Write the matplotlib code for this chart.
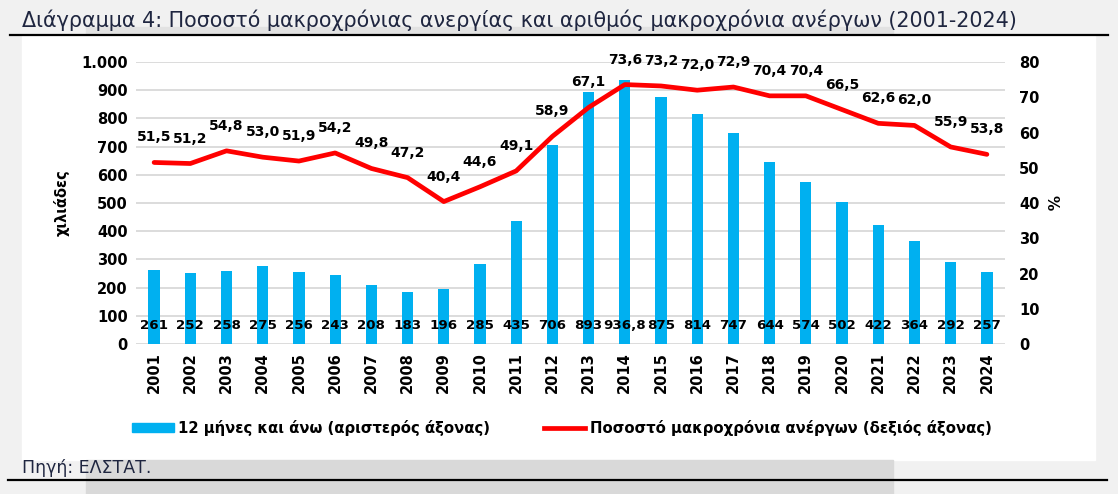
import numpy as np
import matplotlib
matplotlib.use("Agg")
import matplotlib.pyplot as plt
from matplotlib.patches import Rectangle
from matplotlib.lines import Line2D

# data
years = [str(y) for y in range(2001, 2025)]
longterm_k = [261, 252, 258, 275, 256, 243, 208, 183, 196, 285, 435, 706,
              893, 936.8, 875, 814, 747, 644, 574, 502, 422, 364, 292, 257]
longterm_pct = [51.5, 51.2, 54.8, 53.0, 51.9, 54.2, 49.8, 47.2, 40.4, 44.6, 49.1, 58.9,
                67.1, 73.6, 73.2, 72.0, 72.9, 70.4, 70.4, 66.5, 62.6, 62.0, 55.9, 53.8]
left_ticks = list(range(0, 1001, 100))
right_ticks = list(range(0, 81, 10))

title = "Διάγραμμα 4: Ποσοστό μακροχρόνιας ανεργίας και αριθμός μακροχρόνια ανέργων (2001-2024)"
bar_label = "12 μήνες και άνω (αριστερός άξονας)"
line_label = "Ποσοστό μακροχρόνια ανέργων (δεξιός άξονας)"
source = "Πηγή: ΕΛΣΤΑΤ."

BLUE = "#00b0f0"
RED = "#ff0000"
NAVY = "#1f2640"
W, H = 1118, 494


def fx(x):
    return x / W


def fy(y):
    return 1 - y / H


def gr(s):
    # greek decimal comma
    return s.replace(".", ",")


plt.rcParams["font.family"] = ["DejaVu Sans"]
fig = plt.figure(figsize=(W / 100, H / 100), dpi=100, facecolor="#f1f1f1")

# background panels (screenshot look)
fig.add_artist(Rectangle((fx(86), fy(35)), fx(893 - 86), 8 / H, transform=fig.transFigure,
                         color="#e2e2e2", zorder=0))
fig.add_artist(Rectangle((fx(22), fy(460)), fx(1095 - 22), (460 - 36) / H, transform=fig.transFigure,
                         color="white", zorder=0))
fig.add_artist(Rectangle((fx(86), 0), fx(893 - 86), (494 - 460) / H, transform=fig.transFigure,
                         color="#d9d9d9", zorder=0))
fig.add_artist(Line2D([fx(10), fx(1108)], [fy(35), fy(35)], transform=fig.transFigure,
                      color="black", lw=1.6))
fig.add_artist(Line2D([fx(8), fx(1107)], [fy(480), fy(480)], transform=fig.transFigure,
                      color="black", lw=1.6))

fig.text(fx(22), fy(20), title, fontsize=14.9, color=NAVY, ha="left", va="center")
fig.text(fx(22), fy(468), source, fontsize=12.5, color=NAVY, ha="left", va="center")

ax = fig.add_axes([fx(136), fy(344), fx(1005 - 136), (344 - 62) / H])
ax.set_facecolor("none")
x = np.arange(len(years))
ax.bar(x, longterm_k, width=0.31, color=BLUE, zorder=2)
ax.set_ylim(0, 1000)
ax.set_xlim(-0.5, len(years) - 0.5)
ax.set_yticks(left_ticks)
ax.set_yticklabels([f"{v:,}".replace(",", ".") for v in left_ticks])
ax.set_xticks(x)
ax.set_xticklabels(years, rotation=90)
ax.grid(axis="y", color="#d9d9d9", lw=1.3, zorder=0)
for s in ax.spines.values():
    s.set_visible(False)
ax.tick_params(length=0, labelsize=10.5, pad=6)
for lab in ax.get_xticklabels() + ax.get_yticklabels():
    lab.set_fontweight("bold")
ax.set_ylabel("χιλιάδες", fontsize=10.5, fontweight="bold", labelpad=8)

for i, v in enumerate(longterm_k):
    txt = gr(f"{v:.1f}") if v != int(v) else f"{int(v)}"
    ax.text(i, 64, txt, ha="center", va="center", fontsize=9.6, fontweight="bold", zorder=4)

ax2 = ax.twinx()
ax2.plot(x, longterm_pct, color=RED, lw=3.4, solid_capstyle="round", zorder=3)
ax2.set_ylim(0, 80)
ax2.set_yticks(right_ticks)
for s in ax2.spines.values():
    s.set_visible(False)
ax2.tick_params(length=0, labelsize=10.5, pad=10)
for lab in ax2.get_yticklabels():
    lab.set_fontweight("bold")
ax2.set_ylabel("%", fontsize=11, fontweight="bold", rotation=-90, labelpad=14)

for i, v in enumerate(longterm_pct):
    ax2.annotate(gr(f"{v:.1f}"), (i, v), xytext=(0, 18), textcoords="offset points",
                 ha="center", va="center", fontsize=10, fontweight="bold")

handles = [Rectangle((0, 0), 1, 1, color=BLUE),
           Line2D([0], [0], color=RED, lw=3.4)]
fig.legend(handles, [bar_label, line_label], loc="center", bbox_to_anchor=(fx(562), fy(428)),
           ncol=2, frameon=False, prop={"weight": "bold", "size": 10.7},
           handlelength=2.8, handleheight=0.6, handletextpad=0.3, columnspacing=3.6)

fig.savefig("out.png", dpi=100, facecolor=fig.get_facecolor())
